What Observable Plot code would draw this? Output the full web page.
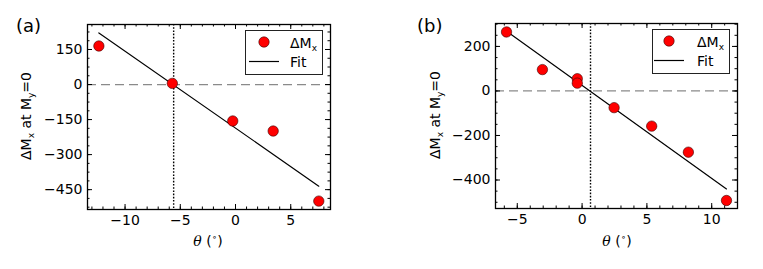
<!DOCTYPE html>
<html><head><meta charset="utf-8">
<script src="https://cdn.jsdelivr.net/npm/d3@7"></script>
<script src="https://cdn.jsdelivr.net/npm/@observablehq/plot@0.6"></script>
<style>
body{margin:0;background:#fff;font-family:"DejaVu Sans",sans-serif;color:#000;}
#root{position:relative;width:763px;height:269px;overflow:hidden;background:#fff;}
.abs{position:absolute;white-space:nowrap;line-height:1;}
.plot{position:absolute;top:0;}
sub{font-size:9px;vertical-align:-3px;line-height:0;}
sup{font-size:9px;vertical-align:6px;line-height:0;}
.leg{position:absolute;border:1.3px solid #222;background:#fff;box-sizing:border-box;}
</style></head><body><div id="root"></div>
<script>
// ---- Panel (a) data ----
const thetaA = [-12.37, -5.72, -0.25, 3.41, 7.54];
const dmxA = [165, 5, -156, -199, -499];
const fitThetaA = [-12.37, 7.54];
const fitDmxA = [221, -435];
const crossA = [-5.6];
const xTicksA = [-10, -5, 0, 5];
const yTicksA = [150, 0, -150, -300, -450];

// ---- Panel (b) data ----
const thetaB = [-5.83, -3.06, -0.37, -0.37, 2.47, 5.37, 8.2, 11.14];
const dmxB = [265, 96, 55, 35, -75, -158, -275, -492];
const fitThetaB = [-5.83, 11.14];
const fitDmxB = [268, -440];
const crossB = [0.65];
const xTicksB = [-5, 0, 5, 10];
const yTicksB = [200, 0, -200, -400];

const root = document.getElementById("root");

function addDiv(html, style, cls="abs") {
  const d = document.createElement("div");
  d.className = cls;
  d.innerHTML = html;
  Object.assign(d.style, style);
  root.appendChild(d);
  return d;
}

function panel(o) {
  const W = 380, H = 269;
  const mL = o.frame.l - o.left, mR = o.left + W - o.frame.r, mT = o.frame.t, mB = H - o.frame.b;
  const innerW = o.frame.r - o.frame.l, innerH = o.frame.b - o.frame.t;
  const pts = o.theta.map((t, i) => ({t, v: o.dmx[i]}));
  const fit = o.fitX.map((t, i) => ({t, v: o.fitY[i]}));
  const [x0, x1] = o.xDomain, [y0, y1] = o.yDomain;
  const xMinor = d3.range(Math.ceil(x0 / o.xMinorStep) * o.xMinorStep, x1, o.xMinorStep);
  const yMinor = d3.range(Math.ceil(y0 / o.yMinorStep) * o.yMinorStep, y1, o.yMinorStep);
  const maj = 5, mnr = 2.5;
  const svg = Plot.plot({
    width: W, height: H,
    marginLeft: mL, marginRight: mR, marginTop: mT, marginBottom: mB,
    x: {domain: o.xDomain},
    y: {domain: o.yDomain},
    style: {fontFamily: "DejaVu Sans", fontSize: "14px", color: "#000", background: "transparent", overflow: "visible"},
    marks: [
      Plot.ruleY([0], {stroke: "#8a8a8a", strokeWidth: 1.3, strokeDasharray: "9,5"}),
      Plot.ruleX(o.cross, {stroke: "#000", strokeWidth: 1.4, strokeDasharray: "1.6,1.6"}),
      Plot.line(fit, {x: "t", y: "v", stroke: "#000", strokeWidth: 1.2}),
      Plot.dot(pts, {x: "t", y: "v", r: 5.2, fill: "#ff0000", stroke: "#3a0000", strokeWidth: 0.6}),
      // major / minor ticks inward on all sides
      Plot.tickX(o.xTicks, {x: d => d, insetTop: innerH - maj, stroke: "#000"}),
      Plot.tickX(o.xTicks, {x: d => d, insetBottom: innerH - maj, stroke: "#000"}),
      Plot.tickX(xMinor, {x: d => d, insetTop: innerH - mnr, stroke: "#000"}),
      Plot.tickX(xMinor, {x: d => d, insetBottom: innerH - mnr, stroke: "#000"}),
      Plot.tickY(o.yTicks, {y: d => d, insetRight: innerW - maj, stroke: "#000"}),
      Plot.tickY(o.yTicks, {y: d => d, insetLeft: innerW - maj, stroke: "#000"}),
      Plot.tickY(yMinor, {y: d => d, insetRight: innerW - mnr, stroke: "#000"}),
      Plot.tickY(yMinor, {y: d => d, insetLeft: innerW - mnr, stroke: "#000"}),
      Plot.axisX({ticks: o.xTicks, anchor: "bottom", tickSize: 0, tickPadding: 6, label: null}),
      Plot.axisY({ticks: o.yTicks, anchor: "left", tickSize: 0, tickPadding: 5, label: null}),
      Plot.frame({stroke: "#000", strokeWidth: 1.3})
    ]
  });
  svg.classList.add("plot");
  svg.style.left = o.left + "px";
  root.appendChild(svg);

  // panel letter
  addDiv(o.letter, {left: o.letterPos[0] + "px", top: o.letterPos[1] + "px", fontSize: "18px"});
  // y label (rotated)
  addDiv('ΔM<sub>x</sub> at M<sub>y</sub>=0', {
    left: o.yLab[0] + "px", top: o.yLab[1] + "px", fontSize: "14px",
    transform: "translate(-50%,-50%) rotate(-90deg)"
  });
  // x label
  addDiv('<span style="font-family:\'DejaVu Serif\';font-style:italic">θ</span> (<sup>∘</sup>)', {
    left: o.xLab[0] + "px", top: o.xLab[1] + "px", fontSize: "14px",
    transform: "translate(-50%,-50%)"
  });
  // legend
  const [lx, ly, lw, lh] = o.leg;
  addDiv(
    `<svg width="${lw}" height="${lh}" style="position:absolute;left:-1px;top:-1px">
       <circle cx="${o.legDot}" cy="12" r="5.2" fill="#ff0000" stroke="#3a0000" stroke-width="0.6"/>
       <line x1="${o.legDot - 15}" x2="${o.legDot + 15}" y1="31.5" y2="31.5" stroke="#000" stroke-width="1.2"/>
     </svg>
     <div class="abs" style="left:${o.legText}px;top:5px;font-size:14px">ΔM<sub>x</sub></div>
     <div class="abs" style="left:${o.legText}px;top:24px;font-size:14px">Fit</div>`,
    {left: lx + "px", top: ly + "px", width: lw + "px", height: lh + "px"}, "leg");
}

panel({
  theta: thetaA, dmx: dmxA, fitX: fitThetaA, fitY: fitDmxA, cross: crossA,
  xTicks: xTicksA, yTicks: yTicksA, xMinorStep: 1, yMinorStep: 37.5,
  xDomain: [-13.4, 8.6], yDomain: [-535, 257],
  left: 0, frame: {l: 87, r: 330, t: 24, b: 209},
  letter: "(a)", letterPos: [16, 17], yLab: [26, 116], xLab: [208, 241],
  leg: [245, 30, 78, 45], legDot: 19, legText: 44
});

panel({
  theta: thetaB, dmx: dmxB, fitX: fitThetaB, fitY: fitDmxB, cross: crossB,
  xTicks: xTicksB, yTicks: yTicksB, xMinorStep: 1, yMinorStep: 50,
  xDomain: [-6.68, 11.99], yDomain: [-528, 303],
  left: 383, frame: {l: 495, r: 737, t: 23, b: 208},
  letter: "(b)", letterPos: [417, 17], yLab: [435, 115], xLab: [617, 241],
  leg: [652, 29, 78, 45], legDot: 17, legText: 44
});
</script></body></html>
